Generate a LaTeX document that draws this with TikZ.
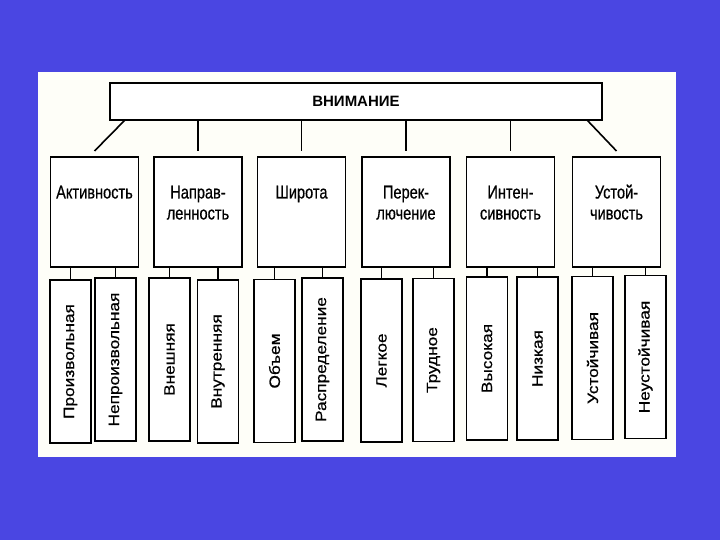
\documentclass[tikz,border=0pt]{standalone}
\usepackage{fontspec}
\setmainfont{Liberation Sans}
\newfontfamily\scanfont[FakeBold=0.6]{Liberation Sans}
\definecolor{bgblue}{RGB}{74,70,226}
\definecolor{panel}{RGB}{254,254,248}
\tikzset{
  box/.style={draw=black, line width=1.9pt, fill=white, inner sep=0pt, outer sep=0pt},
  catbox/.style={box, minimum width=88pt, minimum height=110pt},
  lowbox/.style={box, minimum width=41pt, minimum height=163pt, font=\scanfont\fontsize{15}{17}\selectfont},
  cattext/.style={anchor=base, inner sep=0pt, font=\scanfont\fontsize{14.6}{16.5}\selectfont},
  link/.style={draw=black, line width=1.6pt},
}
\newcommand\vtext[1]{\rotatebox{90}{\scalebox{1.15}[1]{#1}}}
\newcommand\htext[1]{\scalebox{1}[1.27]{\begin{tabular}[t]{@{}c@{}}#1\end{tabular}}}
\begin{document}
\begin{tikzpicture}[x=1pt,y=-1pt]
\fill[bgblue] (0,0) rectangle (720,540);
\useasboundingbox (0,0) rectangle (720,540);
\fill[panel] (38,72) rectangle (676,457);

\node[box, minimum width=492pt, minimum height=37pt, font=\fontsize{15}{18}\selectfont\bfseries] (top) at (356,101.5) {ВНИМАНИЕ};

% category boxes
\node[catbox] (c1) at (94.5,212) {};
\node[catbox] (c2) at (198,212) {};
\node[catbox] (c3) at (301.5,212) {};
\node[catbox] (c4) at (406,212) {};
\node[catbox] (c5) at (510.5,212) {};
\node[catbox] (c6) at (616.5,212) {};

\node[cattext] (t1) at (94.5,198.5) {\htext{Активность}};
\node[cattext] (t2) at (198,198.5) {\htext{Направ-\\ленность}};
\node[cattext] (t3) at (301.5,198.5) {\htext{Широта}};
\node[cattext] (t4) at (406,198.5) {\htext{Перек-\\лючение}};
\node[cattext] (t5) at (510.5,198.5) {\htext{Интен-\\сивность}};
\node[cattext] (t6) at (616.5,198.5) {\htext{Устой-\\чивость}};

% connectors from top
\draw[link] ([xshift=15pt]top.south west) -- ([yshift=6pt]c1.north);
\draw[link] (top.south -| c2.north) -- ([yshift=6pt]c2.north);
\draw[link] (top.south -| c3.north) -- ([yshift=6pt]c3.north);
\draw[link] (top.south -| c4.north) -- ([yshift=6pt]c4.north);
\draw[link] (top.south -| c5.north) -- ([yshift=6pt]c5.north);
\draw[link] ([xshift=-15pt]top.south east) -- ([yshift=6pt]c6.north);

% lower boxes
\node[lowbox] (l1) at (70.5,361.5) {\vtext{Произвольная}};
\node[lowbox] (l2) at (115.5,359.5) {\vtext{Непроизвольная}};
\node[lowbox] (l3) at (169.5,359.5) {\vtext{Внешняя}};
\node[lowbox] (l4) at (218,361.5) {\vtext{Внутренняя}};
\node[lowbox] (l5) at (274.5,361) {\vtext{Объем}};
\node[lowbox] (l6) at (322.5,359.5) {\vtext{Распределение}};
\node[lowbox] (l7) at (381.5,360.5) {\vtext{Легкое}};
\node[lowbox] (l8) at (433.5,360) {\vtext{Трудное}};
\node[lowbox] (l9) at (487,358.5) {\vtext{Высокая}};
\node[lowbox] (l10) at (537.5,358.5) {\vtext{Низкая}};
\node[lowbox] (l11) at (592.5,358) {\vtext{Устойчивая}};
\node[lowbox] (l12) at (645.5,357) {\vtext{Неустойчивая}};

% lower connectors
\draw[link] (l1.north |- c1.south) -- (l1.north);
\draw[link] (l2.north |- c1.south) -- (l2.north);
\draw[link] (l3.north |- c2.south) -- (l3.north);
\draw[link] (l4.north |- c2.south) -- (l4.north);
\draw[link] (l5.north |- c3.south) -- (l5.north);
\draw[link] (l6.north |- c3.south) -- (l6.north);
\draw[link] (l7.north |- c4.south) -- (l7.north);
\draw[link] (l8.north |- c4.south) -- (l8.north);
\draw[link] (l9.north |- c5.south) -- (l9.north);
\draw[link] (l10.north |- c5.south) -- (l10.north);
\draw[link] (l11.north |- c6.south) -- (l11.north);
\draw[link] (l12.north |- c6.south) -- (l12.north);
\end{tikzpicture}
\end{document}
